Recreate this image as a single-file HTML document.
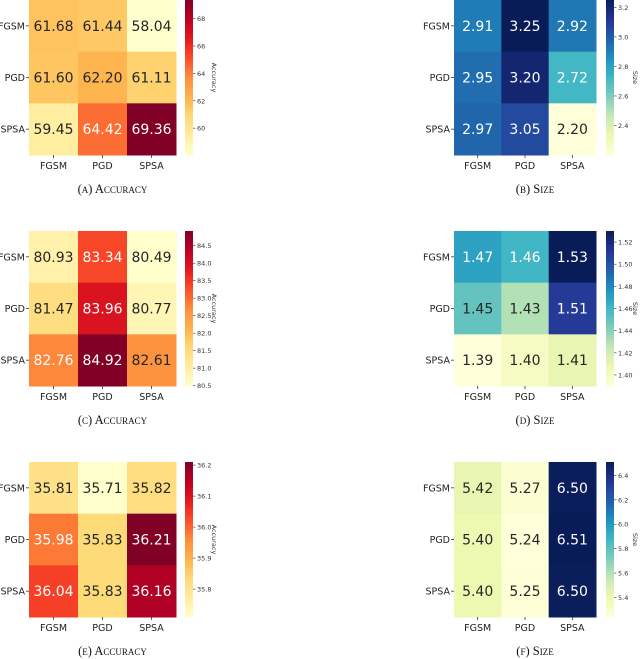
<!DOCTYPE html>
<html><head><meta charset="utf-8"><style>
body{margin:0;background:#fff;width:640px;height:659px;overflow:hidden}
svg{display:block}
</style></head><body>
<svg id="fig" width="640" height="659" font-family="DejaVu Sans, Liberation Sans, sans-serif"></svg>
<script>
const rowLabels = ["FGSM","PGD","SPSA"];
const colLabels = ["FGSM","PGD","SPSA"];
const accA = [[61.68,61.44,58.04],[61.60,62.20,61.11],[59.45,64.42,69.36]];
const sizeB = [[2.91,3.25,2.92],[2.95,3.20,2.72],[2.97,3.05,2.20]];
const accC = [[80.93,83.34,80.49],[81.47,83.96,80.77],[82.76,84.92,82.61]];
const sizeD = [[1.47,1.46,1.53],[1.45,1.43,1.51],[1.39,1.40,1.41]];
const accE = [[35.81,35.71,35.82],[35.98,35.83,36.21],[36.04,35.83,36.16]];
const sizeF = [[5.42,5.27,6.50],[5.40,5.24,6.51],[5.40,5.25,6.50]];
const ticksA = ["60","62","64","66","68"];
const ticksB = ["2.4","2.6","2.8","3.0","3.2"];
const ticksC = ["80.5","81.0","81.5","82.0","82.5","83.0","83.5","84.0","84.5"];
const ticksD = ["1.40","1.42","1.44","1.46","1.48","1.50","1.52"];
const ticksE = ["35.8","35.9","36.0","36.1","36.2"];
const ticksF = ["5.4","5.6","5.8","6.0","6.2","6.4"];
const captions = ["(a) Accuracy","(b) Size","(c) Accuracy","(d) Size","(e) Accuracy","(f) Size"];

const YlOrRd=["#ffffcc","#ffeda0","#fed976","#feb24c","#fd8d3c","#fc4e2a","#e31a1c","#bd0026","#800026"];
const YlGnBu=["#ffffd9","#edf8b1","#c7e9b4","#7fcdbb","#41b6c4","#1d91c0","#225ea8","#253494","#081d58"];
function hex(h){return [1,3,5].map(i=>parseInt(h.substr(i,2),16));}
function cmap(stops,t){t=Math.max(0,Math.min(1,t));const p=t*(stops.length-1);const i=Math.min(Math.floor(p),stops.length-2);const f=p-i;const a=hex(stops[i]),b=hex(stops[i+1]);return a.map((v,k)=>Math.round(v+(b[k]-v)*f));}
function lum(c){const l=c.map(v=>{v/=255;return v<=0.03928?v/12.92:Math.pow((v+0.055)/1.055,2.4)});return 0.2126*l[0]+0.7152*l[1]+0.0722*l[2];}
const NS="http://www.w3.org/2000/svg";
const svg=document.getElementById('fig');
function mk(tag,attrs,parent){const e=document.createElementNS(NS,tag);for(const k in attrs)e.setAttribute(k,attrs[k]);(parent||svg).appendChild(e);return e;}

const panels=[
 {d:accA,t:ticksA,cm:YlOrRd,lab:"Accuracy",x:29,w:147,y:0,cb:185},
 {d:sizeB,t:ticksB,cm:YlGnBu,lab:"Size",x:454,w:142,y:0,cb:606},
 {d:accC,t:ticksC,cm:YlOrRd,lab:"Accuracy",x:29,w:147,y:231,cb:185},
 {d:sizeD,t:ticksD,cm:YlGnBu,lab:"Size",x:454,w:142,y:231,cb:606},
 {d:accE,t:ticksE,cm:YlOrRd,lab:"Accuracy",x:29,w:147,y:462,cb:185},
 {d:sizeF,t:ticksF,cm:YlGnBu,lab:"Size",x:454,w:142,y:462,cb:606}
];
const H=155;
panels.forEach((p,pi)=>{
 const g=mk('g',{});
 
 
 const flat=p.d.flat();const vmin=Math.min(...flat),vmax=Math.max(...flat);
 const cw=p.w/3,ch=H/3;
 const sx=j=>p.x+j*cw, sy=i=>p.y+i*ch;
 p.d.forEach((row,i)=>row.forEach((v,j)=>{
  const c=cmap(p.cm,(v-vmin)/(vmax-vmin));
  const r=mk('rect',{x:sx(j),y:sy(i),width:cw+0.5,height:ch+0.5,fill:`rgb(${c})`},g);
  
  
  const t=mk('text',{x:sx(j)+cw/2,y:sy(i)+ch/2+5,'text-anchor':'middle','font-size':14,fill:lum(c)>0.408?'#262626':'#ffffff'},g);
  t.textContent=v.toFixed(2);
  
  
 }));
 rowLabels.forEach((l,i)=>{
  mk('line',{x1:p.x-3,x2:p.x,y1:sy(i)+ch/2,y2:sy(i)+ch/2,stroke:'#333','stroke-width':0.8},g);
  const t=mk('text',{x:p.x-4,y:sy(i)+ch/2+3.5,'text-anchor':'end','font-size':9.5,fill:'#222'},g);
  t.textContent=l;
  
  
 });
 colLabels.forEach((l,j)=>{
  mk('line',{x1:sx(j)+cw/2,x2:sx(j)+cw/2,y1:p.y+H,y2:p.y+H+3,stroke:'#333','stroke-width':0.8},g);
  const t=mk('text',{x:sx(j)+cw/2,y:p.y+H+14,'text-anchor':'middle','font-size':9.5,fill:'#222'},g);
  t.textContent=l;
  
  
 });
 const cbw=8,N=60;
 for(let k=0;k<N;k++){
  const c=cmap(p.cm,1-(k+0.5)/N);
  mk('rect',{x:p.cb,y:p.y+k*H/N,width:cbw,height:H/N+0.5,fill:`rgb(${c})`},g);
 }
 const cy=v=>p.y+H-(v-vmin)/(vmax-vmin)*H;
 p.t.forEach(s=>{
  const v=parseFloat(s);
  if(v<vmin-1e-9||v>vmax+1e-9)return;
  mk('line',{x1:p.cb+cbw,x2:p.cb+cbw+2.5,y1:cy(v),y2:cy(v),stroke:'#333','stroke-width':0.6},g);
  const t=mk('text',{x:p.cb+cbw+4,y:cy(v)+2.5,'font-size':6.5,fill:'#333'},g);
  t.textContent=s;
  
  
 });
 const lt=mk('text',{x:0,y:0,'font-size':6.5,fill:'#333','text-anchor':'middle',transform:`translate(${p.cb+cbw+19},${p.y+H/2}) rotate(90)`},g);
 lt.textContent=p.lab;
 
 
 const cap=mk('text',{x:p.x+p.w/2+10,y:p.y+193,'text-anchor':'middle','font-size':12.5,'font-family':'Liberation Serif, serif',fill:'#111','font-variant':'small-caps'},g);
 cap.textContent=captions[pi];
 
 
});
</script>
</body></html>
